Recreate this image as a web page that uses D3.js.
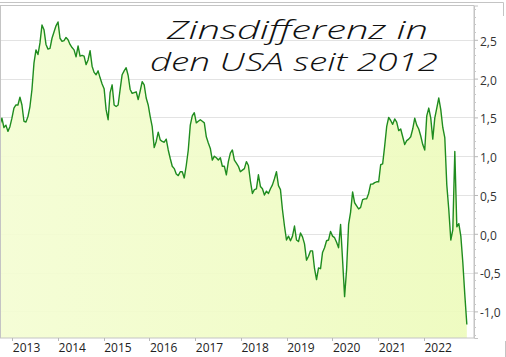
<!DOCTYPE html>
<html>
<head>
<meta charset="utf-8">
<script src="https://cdn.jsdelivr.net/npm/d3@7"></script>
<style>
  html, body { margin: 0; padding: 0; background: #fff; }
  svg { display: block; }
</style>
</head>
<body>
<svg id="chart" width="506" height="357"></svg>
<script>
// ---- data ----
const titleLines = ["Zinsdifferenz in", "den USA seit 2012"];
const yearLabels = ["2013","2014","2015","2016","2017","2018","2019","2020","2021","2022"];
const yTicks = [-1.0, -0.5, 0.0, 0.5, 1.0, 1.5, 2.0, 2.5];
const seriesStart = "2012-09-24";
const stepDays = 16;
const spread = [
  1.40,1.49,1.37,1.40,1.32,1.38,1.49,1.62,1.66,1.66,
  1.76,1.66,1.45,1.44,1.51,1.64,1.86,2.20,2.37,2.31,
  2.46,2.69,2.63,2.44,2.38,2.39,2.52,2.60,2.68,2.73,
  2.52,2.48,2.49,2.53,2.50,2.44,2.40,2.37,2.28,2.42,
  2.29,2.30,2.29,2.18,2.24,2.36,2.16,2.08,2.05,2.10,
  2.01,1.93,1.87,1.60,1.47,1.82,1.92,1.66,1.64,1.66,
  1.86,2.05,2.10,2.14,2.04,1.86,1.81,1.82,1.83,1.73,
  1.84,1.96,1.92,1.75,1.66,1.51,1.38,1.11,1.19,1.31,
  1.21,1.19,1.18,1.22,1.08,0.97,0.87,0.84,0.77,0.75,
  0.80,0.80,0.72,0.88,1.08,1.40,1.52,1.56,1.43,1.45,
  1.47,1.45,1.43,1.25,1.17,1.10,0.95,1.00,0.98,0.95,
  0.98,0.87,0.87,0.76,0.93,1.04,1.08,0.95,0.91,0.87,
  0.80,0.82,0.84,0.93,0.88,0.68,0.52,0.57,0.58,0.76,
  0.61,0.58,0.50,0.55,0.52,0.58,0.63,0.71,0.80,0.62,
  0.57,0.31,0.10,-0.08,-0.03,-0.09,-0.03,0.10,-0.08,-0.10,
  0.01,-0.04,-0.13,-0.34,-0.29,-0.22,-0.22,-0.45,-0.59,-0.44,
  -0.45,-0.24,-0.18,-0.09,-0.08,0.03,-0.03,-0.05,-0.11,-0.18,
  0.12,-0.34,-0.81,-0.46,0.12,0.28,0.54,0.40,0.36,0.32,
  0.34,0.44,0.45,0.45,0.52,0.64,0.64,0.66,0.67,0.67,
  0.89,0.90,1.13,1.38,1.50,1.46,1.41,1.48,1.44,1.33,
  1.35,1.25,1.15,1.20,1.22,1.25,1.35,1.49,1.40,1.35,
  1.26,1.15,1.08,1.52,1.62,1.49,1.22,1.49,1.62,1.75,
  1.60,1.37,1.24,0.63,0.31,-0.08,0.05,1.06,0.09,0.13,
  -0.03,-0.37,-0.79,-1.17
];

// ---- layout ----
const plot = { left: 0.5, right: 474, top: 5.5, bottom: 338 };
const svg = d3.select("#chart");
const parse = d3.timeParse("%Y-%m-%d");
const start = parse(seriesStart);
const data = spread.map((v, i) => ({ date: d3.timeDay.offset(start, i * stepDays), v }));

const x = d3.scaleTime()
  .domain([new Date(2013, 0, 1), new Date(2022, 0, 1)])
  .range([12.3, 424]);
const y = d3.scaleLinear()
  .domain([-1.343, 2.942])
  .range([plot.bottom, plot.top]);

const defs = svg.append("defs");
defs.append("clipPath").attr("id", "clip")
  .append("rect")
  .attr("x", plot.left).attr("y", plot.top)
  .attr("width", plot.right - plot.left).attr("height", plot.bottom - plot.top);
const grad = defs.append("linearGradient").attr("id", "fillGrad")
  .attr("x1", "0").attr("x2", "1").attr("y1", "0").attr("y2", "0");
grad.append("stop").attr("offset", "0").attr("stop-color", "#f4fdd3");
grad.append("stop").attr("offset", "1").attr("stop-color", "#edfbbc");

// outer frame pieces
svg.append("line").attr("x1", 0).attr("x2", 503.5).attr("y1", 2.5).attr("y2", 2.5)
  .attr("stroke", "#c4c4c4");
svg.append("line").attr("x1", 503.5).attr("x2", 503.5).attr("y1", 2.5).attr("y2", 16)
  .attr("stroke", "#c4c4c4");
svg.append("line").attr("x1", 505.5).attr("x2", 505.5).attr("y1", 341).attr("y2", 357)
  .attr("stroke", "#c4c4c4");

// gridlines
svg.append("g").selectAll("line").data(yTicks).join("line")
  .attr("x1", plot.left).attr("x2", plot.right)
  .attr("y1", d => Math.round(y(d)) + 0.5).attr("y2", d => Math.round(y(d)) + 0.5)
  .attr("stroke", "#e3e3e3");

// area + line
const g = svg.append("g").attr("clip-path", "url(#clip)");
g.append("path").datum(data)
  .attr("d", d3.area().x(d => x(d.date)).y0(plot.bottom).y1(d => y(d.v)))
  .attr("fill", "url(#fillGrad)").attr("fill-opacity", 0.92);
g.append("path").datum(data)
  .attr("d", d3.line().x(d => x(d.date)).y(d => y(d.v)))
  .attr("fill", "none").attr("stroke", "#1f8c1f").attr("stroke-width", 1.4)
  .attr("stroke-linejoin", "round");

// plot frame
svg.append("rect")
  .attr("x", plot.left).attr("y", plot.top)
  .attr("width", plot.right - plot.left).attr("height", plot.bottom - plot.top)
  .attr("fill", "none").attr("stroke", "#c4c4c4");

// right axis
const yAxis = d3.axisRight(y).tickValues(yTicks).tickSize(4).tickPadding(2)
  .tickFormat(d => d3.format(".1f")(d).replace(".", ",").replace("−", "-"));
const ya = svg.append("g").attr("transform", `translate(${plot.right},0)`).call(yAxis);
ya.select(".domain").attr("stroke", "#c4c4c4");
ya.selectAll(".tick line").attr("stroke", "#b8b8b8");
ya.selectAll(".tick text").attr("font-family", "'Open Sans', 'DejaVu Sans', sans-serif")
  .attr("font-size", 12).attr("fill", "#333").attr("dy", "0.45em");
// minor ticks every 0.1
const minor = d3.range(-13, 30).map(i => i / 10).filter(v => Math.abs(v * 2 - Math.round(v * 2)) > 1e-6);
svg.append("g").selectAll("line").data(minor).join("line")
  .attr("x1", plot.right).attr("x2", plot.right + 2)
  .attr("y1", d => Math.round(y(d)) + 0.5).attr("y2", d => Math.round(y(d)) + 0.5)
  .attr("stroke", "#c8c8c8");

// bottom axis
const xg = svg.append("g");
xg.selectAll("line").data(yearLabels).join("line")
  .attr("x1", d => Math.round(x(new Date(+d, 0, 1))) + 0.5)
  .attr("x2", d => Math.round(x(new Date(+d, 0, 1))) + 0.5)
  .attr("y1", plot.bottom).attr("y2", plot.bottom + 3)
  .attr("stroke", "#b8b8b8");
xg.selectAll("text").data(yearLabels).join("text")
  .attr("x", d => x(new Date(+d, 0, 1)) + 0.5)
  .attr("y", 352)
  .attr("font-family", "'Open Sans', 'DejaVu Sans', sans-serif")
  .attr("font-size", 12).attr("fill", "#222")
  .text(d => d);

// title
const titlePos = [
  { x: 167, y: 38.5, w: 261 },
  { x: 150, y: 71, w: 288 }
];
svg.append("g").selectAll("text").data(titleLines).join("text")
  .attr("x", (d, i) => titlePos[i].x)
  .attr("y", (d, i) => titlePos[i].y)
  .attr("textLength", (d, i) => titlePos[i].w)
  .attr("lengthAdjust", "spacingAndGlyphs")
  .attr("font-family", "'Open Sans', 'DejaVu Sans', sans-serif")
  .attr("font-style", "italic").attr("font-weight", 300)
  .attr("font-size", 26).attr("fill", "#111")
  .text(d => d);
</script>
</body>
</html>
